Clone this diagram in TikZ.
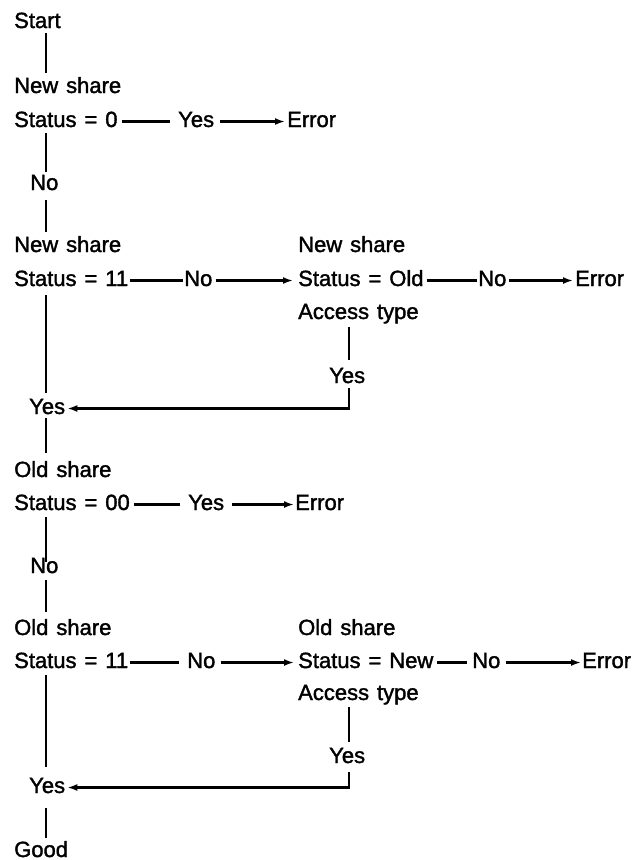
\documentclass[tikz,border=0pt]{standalone}
\usepackage{fontspec}
\setmainfont{Liberation Sans}[FakeBold=1.6,WordSpace=1.3]
\usetikzlibrary{arrows.meta}
\begin{document}
\begin{tikzpicture}[x=1pt,y=-1pt,
  lbl/.style={anchor=base west,inner sep=0pt,text height=15pt,text depth=4pt,
    font=\fontsize{22}{26}\selectfont},
  flow/.style={line width=2.3pt},
  arr/.style={flow,-{Latex[length=10pt,width=7pt]}}]
\useasboundingbox (0,0) rectangle (640,860);
\coordinate (lx) at (46,0);
\coordinate (rx) at (349,0);

% first test: new share status 0
\node[lbl] (start) at (14,28) {Start};
\node[lbl] (ns1) at (14,93) {New share};
\node[lbl] (st0) at (14,127) {Status = 0};
\node[lbl] (y0) at (178,127) {Yes};
\node[lbl] (e0) at (287,127) {Error};
\node[lbl] (no0) at (30,190) {No};

% second test: new share status 11
\node[lbl] (ns2) at (14,252) {New share};
\node[lbl] (st11) at (14,286) {Status = 11};
\node[lbl] (no11) at (184,286) {No};
\node[lbl] (ns2r) at (298,252) {New share};
\node[lbl] (stold) at (298,286) {Status = Old};
\node[lbl] (noold) at (478,286) {No};
\node[lbl] (e1) at (575,286) {Error};
\node[lbl] (acc1) at (298,319) {Access type};
\node[lbl] (yr1) at (329,383) {Yes};
\node[lbl] (yl1) at (29,414) {Yes};

% third test: old share status 00
\node[lbl] (os1) at (14,477) {Old share};
\node[lbl] (st00) at (14,510) {Status = 00};
\node[lbl] (y00) at (188,510) {Yes};
\node[lbl] (e00) at (295,510) {Error};
\node[lbl] (no00) at (30,573) {No};

% fourth test: old share status 11
\node[lbl] (os2) at (14,635) {Old share};
\node[lbl] (st11b) at (14,668) {Status = 11};
\node[lbl] (no11b) at (187,668) {No};
\node[lbl] (os2r) at (298,635) {Old share};
\node[lbl] (stnew) at (298,668) {Status = New};
\node[lbl] (nonew) at (472,668) {No};
\node[lbl] (e2) at (582,668) {Error};
\node[lbl] (acc2) at (298,700) {Access type};
\node[lbl] (yr2) at (329,763) {Yes};
\node[lbl] (yl2) at (29,793) {Yes};
\node[lbl] (good) at (14,857) {Good};

% main spine
\draw[flow,shorten <=1pt,shorten >=5pt] (start.south -| lx) -- (ns1.north -| lx);
\draw[flow,shorten <=2pt,shorten >=3pt] (st0.south -| lx) -- (no0.north -| lx);
\draw[flow,shorten <=6pt,shorten >=5pt] (no0.south -| lx) -- (ns2.north -| lx);
\draw[flow,shorten <=5pt,shorten >=6pt] (st11.south -| lx) -- (yl1.north -| lx);
\draw[flow,shorten <=0pt,shorten >=9pt] (yl1.south -| lx) -- (os1.north -| lx);
\draw[flow,shorten <=3pt,shorten >=-4pt] (st00.south -| lx) -- (no00.north -| lx);
\draw[flow,shorten <=3pt,shorten >=8pt] (no00.south -| lx) -- (os2.north -| lx);
\draw[flow,shorten <=3pt,shorten >=11pt] (st11b.south -| lx) -- (yl2.north -| lx);
\draw[flow,shorten <=11pt,shorten >=4pt] (yl2.south -| lx) -- (good.north -| lx);

% side branches
\draw[flow,shorten <=4pt,shorten >=8pt] (st0.east) -- (y0.west);
\draw[arr,shorten <=6pt,shorten >=2pt] (y0.east) -- (e0.west);
\draw[flow,shorten <=2pt,shorten >=1pt] (st11.east) -- (no11.west);
\draw[arr,shorten <=3pt,shorten >=5pt] (no11.east) -- (stold.west);
\draw[flow,shorten <=3pt,shorten >=1pt] (stold.east) -- (noold.west);
\draw[arr,shorten <=2pt,shorten >=2pt] (noold.east) -- (e1.west);
\draw[flow,shorten <=4pt,shorten >=8pt] (st00.east) -- (y00.west);
\draw[arr,shorten <=8pt,shorten >=1pt] (y00.east) -- (e00.west);
\draw[flow,shorten <=2pt,shorten >=8pt] (st11b.east) -- (no11b.west);
\draw[arr,shorten <=5pt,shorten >=4pt] (no11b.east) -- (stnew.west);
\draw[flow,shorten <=3pt,shorten >=5pt] (stnew.east) -- (nonew.west);
\draw[arr,shorten <=5pt,shorten >=1pt] (nonew.east) -- (e2.west);

% access type checks returning to the spine
\draw[flow,shorten <=4pt,shorten >=8pt] (acc1.south -| rx) -- (yr1.north -| rx);
\draw[arr,shorten >=2pt] ([yshift=-1pt]yr1.south -| rx) |- (yl1.east);
\draw[flow,shorten <=3pt,shorten >=6pt] (acc2.south -| rx) -- (yr2.north -| rx);
\draw[arr,shorten >=2pt] ([yshift=-5pt]yr2.south -| rx) |- (yl2.east);
\end{tikzpicture}
\end{document}
